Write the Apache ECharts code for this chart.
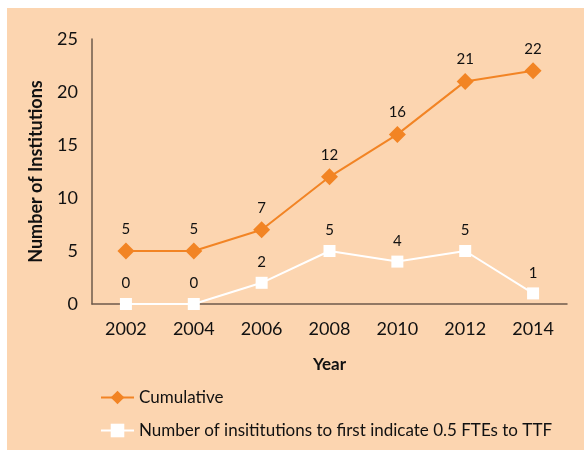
<!DOCTYPE html>
<html>
<head>
<meta charset="utf-8">
<script src="https://cdn.jsdelivr.net/npm/echarts@6/dist/echarts.min.js"></script>
<style>
  html, body { margin: 0; padding: 0; background: #fff; }
  #chart { width: 584px; height: 452px; }
</style>
</head>
<body>
<div id="chart"></div>
<script>
var years = ['2002', '2004', '2006', '2008', '2010', '2012', '2014'];
var cumulative = [5, 5, 7, 12, 16, 21, 22];
var firstIndicate = [0, 0, 2, 5, 4, 5, 1];

var chart = echarts.init(document.getElementById('chart'));
var fontName = 'Lato';
var axisColor = '#6e5a4b';

var option = {
    backgroundColor: '#fff',
    textStyle: { fontFamily: fontName },
    graphic: [{
        type: 'rect',
        z: -10,
        shape: { x: 7, y: 8, width: 577, height: 442 },
        style: { fill: '#fcd5b0' }
    }],
    grid: { left: 92, right: 17, top: 39, bottom: 148 },
    xAxis: {
        type: 'category',
        data: years,
        boundaryGap: true,
        name: 'Year',
        nameLocation: 'middle',
        nameGap: 52,
        nameTextStyle: { fontSize: 17, fontWeight: 'bold', color: '#111' },
        axisLine: { lineStyle: { color: axisColor, width: 1.5 } },
        axisTick: { show: false },
        axisLabel: { fontSize: 18, color: '#111', margin: 16 }
    },
    yAxis: {
        type: 'value',
        min: 0,
        max: 25,
        interval: 5,
        name: 'Number of Institutions',
        nameLocation: 'middle',
        nameGap: 47,
        nameTextStyle: { fontSize: 18, fontWeight: 'bold', color: '#111' },
        axisLine: { show: true, lineStyle: { color: axisColor, width: 1.5 } },
        axisTick: { show: false },
        splitLine: { show: false },
        axisLabel: { fontSize: 18, color: '#111', margin: 14 }
    },
    legend: {
        orient: 'vertical',
        left: 95,
        top: 384,
        itemGap: 16,
        itemWidth: 33,
        itemHeight: 17,
        textStyle: { fontSize: 17, color: '#111' },
        data: ['Cumulative', 'Number of insititutions to first indicate 0.5 FTEs to TTF']
    },
    series: [{
        name: 'Cumulative',
        type: 'line',
        data: cumulative,
        symbol: 'diamond',
        symbolSize: 17,
        color: '#f28424',
        lineStyle: { color: '#f28424', width: 2 },
        itemStyle: { color: '#f28424' },
        label: { show: true, position: 'top', distance: 6, fontSize: 15, color: '#111' }
    }, {
        name: 'Number of insititutions to first indicate 0.5 FTEs to TTF',
        type: 'line',
        data: firstIndicate,
        symbol: 'rect',
        symbolSize: 12,
        color: '#ffffff',
        lineStyle: { color: '#ffffff', width: 2 },
        itemStyle: { color: '#ffffff' },
        label: { show: true, position: 'top', distance: 7, fontSize: 15, color: '#111' }
    }]
};

chart.setOption(option);
</script>
</body>
</html>
